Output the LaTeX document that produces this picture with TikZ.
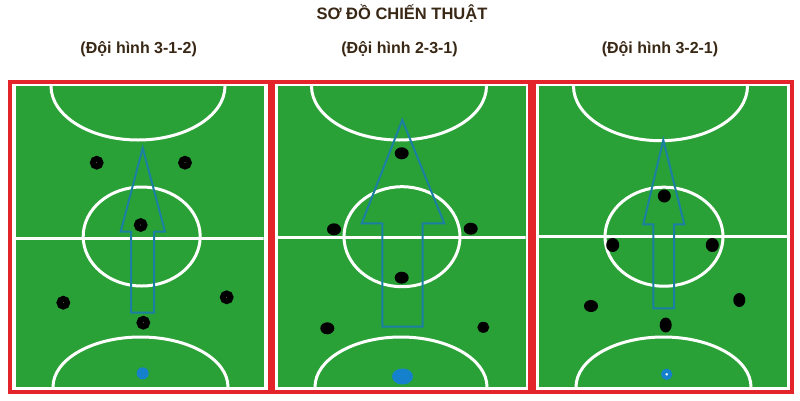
\documentclass[tikz,border=0pt]{standalone}
\usepackage{fontspec}
\setmainfont{Liberation Sans}
\usetikzlibrary{shapes.geometric}
\definecolor{framered}{HTML}{E3242B}
\definecolor{fieldgreen}{HTML}{2AA137}
\definecolor{arrowteal}{HTML}{1B7FA3}
\definecolor{gkblue}{HTML}{1580CC}
\definecolor{titlebrown}{HTML}{3A2816}
\begin{document}
\begin{tikzpicture}[x=1pt,y=-1pt,
  redframe/.style={draw=framered,line width=4},
  wline/.style={draw=white,line width=3},
  arrowline/.style={draw=arrowteal,line width=2,line join=miter},
  ringplayer/.style={circle,draw=black,fill=white,line width=6,minimum size=7.5,inner sep=0},
  dotplayer/.style={ellipse,fill=black,inner sep=0,minimum width=14,minimum height=12},
  gkdot/.style={ellipse,fill=gkblue,inner sep=0,minimum width=12,minimum height=12},
  gkring/.style={circle,draw=gkblue,fill=white,line width=4,minimum size=7,inner sep=0},
  titletext/.style={font=\bfseries\fontsize{16.5}{19}\selectfont,text=titlebrown,inner sep=0,anchor=base},
  subtext/.style={font=\bfseries\fontsize{16}{19}\selectfont,text=titlebrown,inner sep=0}
]
\useasboundingbox (0,0) rectangle (800,400);
\fill[white] (0,0) rectangle (800,400);

% titles
\node[titletext] (title) at (402,19.3) {SƠ ĐỒ CHIẾN THUẬT};
\node[subtext] (sub1) at (138.7,49) {(Đội hình 3-1-2)};
\node[subtext] (sub2) at (399.5,49) {(Đội hình 2-3-1)};
\node[subtext] (sub3) at (660,49) {(Đội hình 3-2-1)};

% ---------- panel 1 ----------
\fill[fieldgreen] (16,86) rectangle (263.5,387);
\begin{scope}
  \clip (16,86) rectangle (263.5,387);
  \draw[wline] (16,238) -- (263.5,238);
  \draw[wline] (141.7,236.5) ellipse [x radius=58.5, y radius=49.5];
  \draw[wline] (138,86) ellipse [x radius=87, y radius=54];
  \draw[wline] (140.5,387) ellipse [x radius=87.5, y radius=50];
\end{scope}
\draw[redframe] (10,81.5) rectangle (269.5,391.5);
\draw[arrowline] (142.7,148) -- (165,231.7) -- (154,231.7) -- (154,312.7)
  -- (131,312.7) -- (131,231.7) -- (120.7,231.7) -- cycle;
\node[ringplayer] (a1) at (96.7,162.7) {};
\node[ringplayer] (a2) at (185,162.7) {};
\node[ringplayer] (a3) at (140.7,225) {};
\node[ringplayer] (a4) at (63.3,302.7) {};
\node[ringplayer] (a5) at (226.7,297.3) {};
\node[ringplayer] (a6) at (143.3,322.7) {};
\node[gkdot] (agk) at (142.7,373.3) {};

% ---------- panel 2 ----------
\fill[fieldgreen] (278,86) rectangle (525.5,387);
\begin{scope}
  \clip (278,86) rectangle (525.5,387);
  \draw[wline] (278,237.7) -- (525.5,237.7);
  \draw[wline] (402,236.7) ellipse [x radius=58, y radius=50];
  \draw[wline] (399,86) ellipse [x radius=87.5, y radius=54];
  \draw[wline] (401,387) ellipse [x radius=86, y radius=50];
\end{scope}
\draw[redframe] (273,81.5) rectangle (530,391.5);
\draw[arrowline] (402.3,120) -- (444.3,223.3) -- (422.7,223.3) -- (422.7,326.7)
  -- (382.3,326.7) -- (382.3,223.3) -- (361.7,223.3) -- cycle;
\node[dotplayer] (b1) at (401.7,153.3) {};
\node[dotplayer] (b2) at (334,229.3) {};
\node[dotplayer] (b3) at (470.7,228.7) {};
\node[dotplayer] (b4) at (401.7,277.7) {};
\node[dotplayer] (b5) at (327.3,328.3) {};
\node[dotplayer,minimum width=12,minimum height=11] (b6) at (483.3,327.3) {};
\node[gkdot,minimum width=21,minimum height=16] (bgk) at (402.5,376.5) {};

% ---------- panel 3 ----------
\fill[fieldgreen] (539,86) rectangle (787,387);
\begin{scope}
  \clip (539,86) rectangle (787,387);
  \draw[wline] (539,236.7) -- (787,236.7);
  \draw[wline] (664,236.7) ellipse [x radius=59, y radius=49.5];
  \draw[wline] (660.5,86) ellipse [x radius=87, y radius=54.7];
  \draw[wline] (663.5,387) ellipse [x radius=87.5, y radius=50];
\end{scope}
\draw[redframe] (534,81.5) rectangle (791.5,391.5);
\draw[arrowline] (663.3,140) -- (684.3,224.3) -- (674,224.3) -- (674,308.3)
  -- (653.3,308.3) -- (653.3,224.3) -- (643.3,224.3) -- cycle;
\node[dotplayer,minimum width=13,minimum height=13] (c1) at (664.3,196) {};
\node[dotplayer,minimum width=13,minimum height=14] (c2) at (612.7,245) {};
\node[dotplayer,minimum width=13,minimum height=14] (c3) at (712.3,245) {};
\node[dotplayer,minimum width=14,minimum height=12] (c4) at (591,306) {};
\node[dotplayer,minimum width=12,minimum height=14] (c5) at (739.3,300) {};
\node[dotplayer,minimum width=12,minimum height=15] (c6) at (665.7,325) {};
\node[gkring] (cgk) at (666.7,374.3) {};
\end{tikzpicture}
\end{document}
